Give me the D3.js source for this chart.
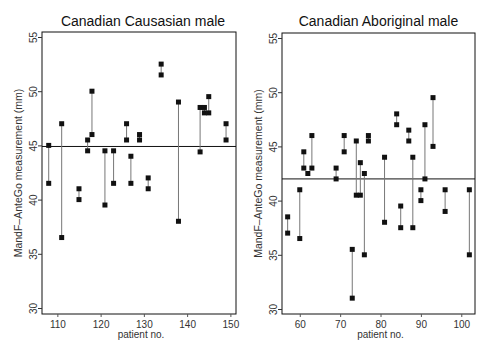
<!DOCTYPE html>
<html>
<head>
<meta charset="utf-8">
<script src="https://cdn.jsdelivr.net/npm/d3@7"></script>
<style>
  html, body { margin: 0; padding: 0; background: #fff; }
  svg { display: block; font-family: "Liberation Sans", Arial, sans-serif; }
</style>
</head>
<body>
<svg id="chart" width="494" height="353"></svg>
<script>
// Canadian Causasian male: patient no. and the two measurements (mm)
const causPatients = [108, 111, 115, 117, 118, 121, 123, 126, 127, 129, 131, 134, 138, 143, 144, 145, 149];
const causFirst    = [45, 47, 41, 45.5, 50, 44.5, 44.5, 47, 44, 46, 42, 52.5, 49, 48.5, 48.5, 49.5, 47];
const causSecond   = [41.5, 36.5, 40, 44.5, 46, 39.5, 41.5, 45.5, 41.5, 45.5, 41, 51.5, 38, 44.4, 48, 48, 45.5];
const causRef = 44.9;

// Canadian Aboriginal male
const aborPatients = [57, 60, 61, 62, 63, 69, 71, 73, 74, 75, 76, 77, 81, 84, 85, 87, 88, 90, 91, 93, 96, 102];
const aborFirst    = [38.5, 41, 44.5, 42.5, 46, 43, 46, 35.5, 45.5, 43.5, 42.5, 46, 44, 48, 39.5, 46.5, 44, 41, 47, 49.5, 41, 41];
const aborSecond   = [37, 36.5, 43, null, 43, 42, 44.5, 31, 40.5, 40.5, 35, 45.5, 38, 47, 37.5, 45.5, 37.5, 40, 42, 45, 39, 35];
const aborRef = 42;

const causXTicks = [110, 120, 130, 140, 150];
const aborXTicks = [60, 70, 80, 90, 100];
const yTicks = [30, 35, 40, 45, 50, 55];

const titles = ['Canadian Causasian male', 'Canadian Aboriginal male'];
const yLabel = 'MandF\u2013AnteGo measurement (mm)';
const xLabel = 'patient no.';

const svg = d3.select('#chart');

function drawPanel(opt) {
  const { box, xDomain, yRange, patients, first, second, ref, xTicks, title } = opt;

  const x = d3.scaleLinear().domain(xDomain).range([box.x0, box.x1]);
  const y = d3.scaleLinear().domain([30, 55]).range(yRange);

  const g = svg.append('g');

  // frame
  g.append('rect')
    .attr('x', box.x0).attr('y', box.y0)
    .attr('width', box.x1 - box.x0).attr('height', box.y1 - box.y0)
    .attr('fill', 'none').attr('stroke', '#111').attr('stroke-width', 1);

  // y axis, labels parallel to the axis
  const ya = g.append('g')
    .attr('transform', `translate(${box.x0},0)`)
    .call(d3.axisLeft(y).tickValues(yTicks).tickSize(4).tickFormat(d3.format('d')));
  ya.select('.domain').remove();
  ya.selectAll('line').attr('stroke', '#333');
  ya.selectAll('text')
    .attr('transform', 'rotate(-90)')
    .attr('x', 0).attr('y', -5).attr('dy', 0)
    .attr('text-anchor', 'middle')
    .style('font-size', '10px').style('fill', '#333');

  // x axis
  const xa = g.append('g')
    .attr('transform', `translate(0,${box.y1})`)
    .call(d3.axisBottom(x).tickValues(xTicks).tickSize(3).tickPadding(4));
  xa.select('.domain').remove();
  xa.selectAll('line').attr('stroke', '#555');
  xa.selectAll('text').style('font-size', '10px').style('fill', '#333');

  // reference line
  g.append('line')
    .attr('x1', box.x0).attr('x2', box.x1)
    .attr('y1', y(ref)).attr('y2', y(ref))
    .attr('stroke', '#111').attr('stroke-width', 1);

  const rows = patients.map((p, i) => ({ p, a: first[i], b: second[i] }));

  // connectors between the two measurements
  g.selectAll('.pair')
    .data(rows.filter(d => d.b != null))
    .enter().append('line')
    .attr('x1', d => x(d.p)).attr('x2', d => x(d.p))
    .attr('y1', d => y(d.a)).attr('y2', d => y(d.b))
    .attr('stroke', '#777').attr('stroke-width', 1);

  const pts = [];
  rows.forEach(d => {
    pts.push({ p: d.p, v: d.a });
    if (d.b != null) pts.push({ p: d.p, v: d.b });
  });
  const s = 5;
  g.selectAll('.pt')
    .data(pts)
    .enter().append('rect')
    .attr('x', d => x(d.p) - s / 2)
    .attr('y', d => y(d.v) - s / 2)
    .attr('width', s).attr('height', s)
    .attr('fill', '#111');

  // title
  g.append('text')
    .attr('x', (box.x0 + box.x1) / 2 + opt.titleShift)
    .attr('y', 26)
    .attr('text-anchor', 'middle')
    .style('font-size', '14px').style('fill', '#111')
    .text(title);

  // x label
  g.append('text')
    .attr('x', (box.x0 + box.x1) / 2 + 2)
    .attr('y', 338)
    .attr('text-anchor', 'middle')
    .style('font-size', '10px').style('fill', '#333')
    .text(xLabel);

  // y label
  g.append('text')
    .attr('transform', `translate(${box.x0 - 20},${(box.y0 + box.y1) / 2}) rotate(-90)`)
    .attr('text-anchor', 'middle')
    .style('font-size', '10.5px').style('fill', '#333')
    .text(yLabel);
}

drawPanel({
  box: { x0: 42, x1: 236, y0: 32, y1: 314 },
  xDomain: [106.45, 151.3],
  yRange: [308, 37],
  patients: causPatients, first: causFirst, second: causSecond, ref: causRef,
  xTicks: causXTicks, title: titles[0], titleShift: 4
});

drawPanel({
  box: { x0: 282, x1: 475, y0: 33, y1: 314 },
  xDomain: [55.6, 103.4],
  yRange: [309, 38],
  patients: aborPatients, first: aborFirst, second: aborSecond, ref: aborRef,
  xTicks: aborXTicks, title: titles[1], titleShift: 0
});
</script>
</body>
</html>
